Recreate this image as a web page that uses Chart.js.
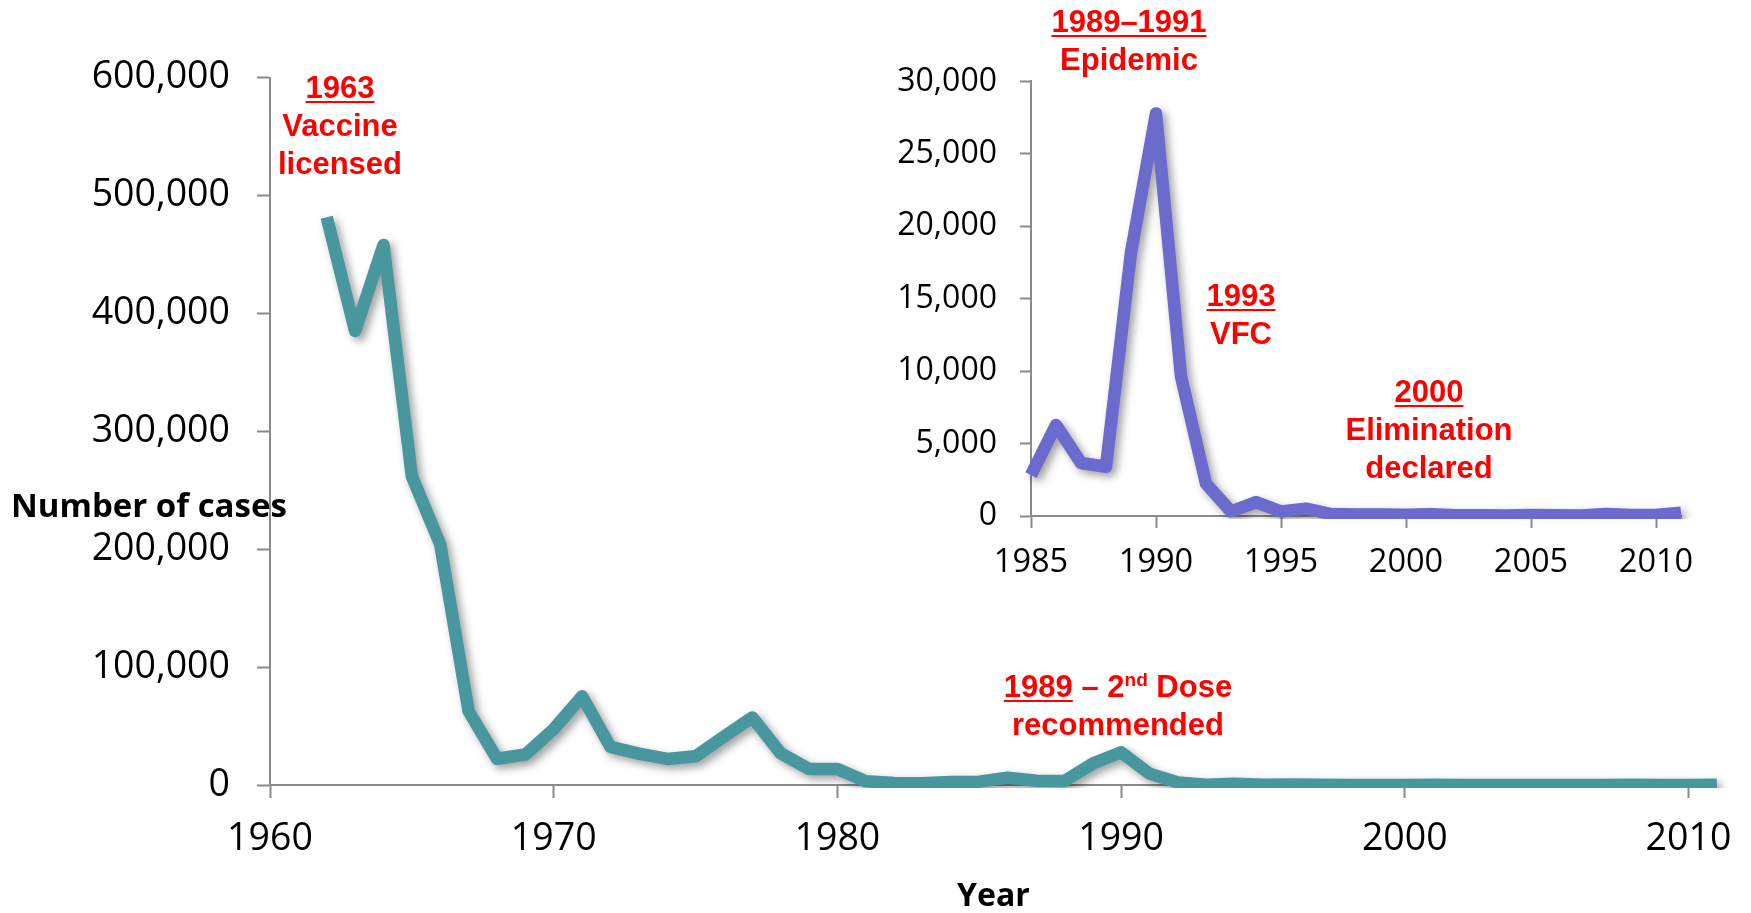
<!DOCTYPE html>
<html>
<head>
<meta charset="utf-8">
<title>Measles cases, United States, 1962-2011</title>
<script src="https://cdn.jsdelivr.net/npm/chart.js@4.4.1/dist/chart.umd.min.js"></script>
<style>
  html, body { margin: 0; padding: 0; background: #fff; }
  #wrap { position: relative; width: 1751px; height: 913px; overflow: hidden; }
  #main { position: absolute; left: 0; top: 0; }
  #inset { position: absolute; left: 880px; top: 0; }
  .note {
    position: absolute; transform: translateX(-50%);
    text-align: center; white-space: nowrap; color: #ff0000;
    font: bold 31px 'Liberation Sans', Arial, sans-serif; line-height: 38px;
  }
  .note u { text-decoration-thickness: 2px; text-underline-offset: 3px; }
  .note sup { font-size: 19px; line-height: 0; vertical-align: 0.6em; }
  .lbl { position: absolute; font: bold 33px 'Open Sans', sans-serif; color: #000; white-space: nowrap; line-height: 1; }
</style>
</head>
<body>
<div id="wrap">
  <canvas id="main" width="1751" height="913"></canvas>
  <canvas id="inset" width="871" height="600"></canvas>

  <div class="lbl" style="left:11px; top:488px;">Number of cases</div>

  <div class="note" style="left:340px; top:69px;"><u>1963</u><br>Vaccine<br>licensed</div>
  <div class="note" style="left:1118px; top:668px;"><u>1989</u> – 2<sup>nd</sup> Dose<br>recommended</div>
  <div class="note" style="left:1129px; top:3px;"><u>1989–1991</u><br>Epidemic</div>
  <div class="note" style="left:1241px; top:277px;"><u>1993</u><br>VFC</div>
  <div class="note" style="left:1429px; top:373px;"><u>2000</u><br>Elimination<br>declared</div>
</div>

<script>
/* ── data ── */
const years = [
  1962, 1963, 1964, 1965, 1966, 1967, 1968, 1969, 1970, 1971,
  1972, 1973, 1974, 1975, 1976, 1977, 1978, 1979, 1980, 1981,
  1982, 1983, 1984, 1985, 1986, 1987, 1988, 1989, 1990, 1991,
  1992, 1993, 1994, 1995, 1996, 1997, 1998, 1999, 2000, 2001,
  2002, 2003, 2004, 2005, 2006, 2007, 2008, 2009, 2010, 2011
];
const cases = [
  481530, 385156, 458083, 261904, 204136, 62705, 22231, 25826, 47351, 75290,
  32275, 26690, 22094, 24374, 41126, 57345, 26871, 13597, 13506, 3124,
  1714, 1497, 2587, 2822, 6282, 3655, 3396, 18193, 27786, 9643,
  2237, 312, 963, 309, 508, 138, 100, 100, 86, 116,
  44, 56, 37, 66, 55, 43, 140, 71, 63, 220
];
const insetStart = 1985;

const mainXTicks = [1960, 1970, 1980, 1990, 2000, 2010];
const mainYTicks = [0, 100000, 200000, 300000, 400000, 500000, 600000];
const insetXTicks = [1985, 1990, 1995, 2000, 2005, 2010];
const insetYTicks = [0, 5000, 10000, 15000, 20000, 25000, 30000];

/* ── common ── */
Chart.defaults.font.family = "'Open Sans', sans-serif";
Chart.defaults.color = '#000';

const axisGray = '#8a8a8a';
const fmt = v => Number(v).toLocaleString('en-US');
const setTicks = list => scale => { scale.ticks = list.map(v => ({ value: v })); };

// soft drop shadow under the thick lines
const lineShadow = {
  id: 'lineShadow',
  beforeDatasetDraw(chart) {
    const c = chart.ctx;
    c.save();
    c.shadowColor = 'rgba(0,0,0,0.38)';
    c.shadowBlur = 8;
    c.shadowOffsetX = 4;
    c.shadowOffsetY = 4;
  },
  afterDatasetDraw(chart) { chart.ctx.restore(); }
};

function axis(extra) {
  return Object.assign({
    type: 'linear',
    border: { display: true, color: axisGray, width: 2 }
  }, extra);
}

function lineSet(pts, color) {
  return {
    data: pts,
    borderColor: color,
    borderWidth: 12.5,
    borderJoinStyle: 'round',
    pointRadius: 0,
    tension: 0,
    // line is cut just under the x axis, like the original plot area
    clip: { left: 30, top: 30, right: 30, bottom: 3 }
  };
}

/* ── main chart ── */
function initMain() {
  const pts = years.map((y, i) => ({ x: y, y: cases[i] }));
  new Chart(document.getElementById('main'), {
    type: 'line',
    data: { datasets: [lineSet(pts, '#48979f')] },
    options: {
      responsive: false,
      animation: false,
      layout: { padding: { top: 77.7, right: 31.4, bottom: 0, left: 0 } },
      plugins: { legend: { display: false }, tooltip: { enabled: false } },
      scales: {
        x: axis({
          min: 1960, max: 2011,
          grid: { drawOnChartArea: false, tickLength: 13, tickColor: axisGray, tickWidth: 2 },
          afterBuildTicks: setTicks(mainXTicks),
          afterFit: s => { s.height = 128; },
          ticks: { font: { size: 37.5 }, padding: 19, maxRotation: 0, callback: v => String(v) },
          title: { display: true, text: 'Year', font: { size: 32, weight: 'bold', lineHeight: 1 }, padding: 0 }
        }),
        y: axis({
          min: 0, max: 600000,
          grid: { drawOnChartArea: false, tickLength: 13, tickColor: axisGray, tickWidth: 2 },
          afterBuildTicks: setTicks(mainYTicks),
          afterFit: s => { s.width = 270; },
          ticks: { font: { size: 37.5 }, padding: 27, callback: fmt }
        })
      }
    },
    plugins: [lineShadow]
  });
}

/* ── inset chart (1985–2011) ── */
function initInset() {
  const pts = years
    .map((y, i) => ({ x: y, y: cases[i] }))
    .filter(p => p.x >= insetStart);
  new Chart(document.getElementById('inset'), {
    type: 'line',
    data: { datasets: [lineSet(pts, '#6b6bcd')] },
    options: {
      responsive: false,
      animation: false,
      layout: { padding: { top: 81.4, right: 70, bottom: 0, left: 0 } },
      plugins: { legend: { display: false }, tooltip: { enabled: false } },
      scales: {
        x: axis({
          min: 1985, max: 2011,
          grid: { drawOnChartArea: false, tickLength: 12, tickColor: axisGray, tickWidth: 2 },
          afterBuildTicks: setTicks(insetXTicks),
          afterFit: s => { s.height = 84; },
          ticks: { font: { size: 32.5 }, padding: 15, maxRotation: 0, callback: v => String(v) }
        }),
        y: axis({
          min: 0, max: 30000,
          grid: { drawOnChartArea: false, tickLength: 11, tickColor: axisGray, tickWidth: 2 },
          afterBuildTicks: setTicks(insetYTicks),
          afterFit: s => { s.width = 151; },
          ticks: { font: { size: 32 }, padding: 23, callback: fmt }
        })
      }
    },
    plugins: [lineShadow]
  });
}

initMain();
initInset();
</script>
</body>
</html>
